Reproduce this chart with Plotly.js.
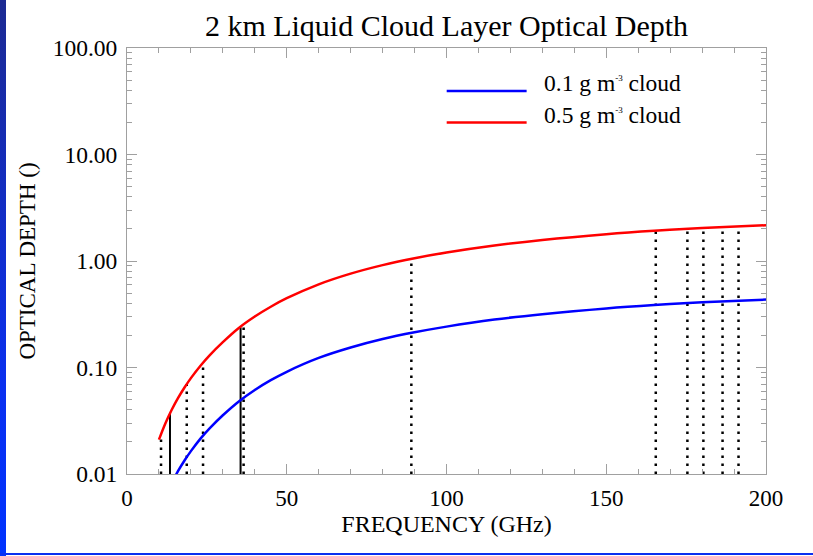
<!DOCTYPE html>
<html>
<head>
<meta charset="utf-8">
<script src="https://cdn.plot.ly/plotly-3.0.1.min.js"></script>
<style>
  html, body { margin: 0; padding: 0; background: #ffffff; }
  #wrap { position: relative; width: 813px; height: 556px; overflow: hidden; }
  #chart { position: absolute; left: 0; top: 0; width: 813px; height: 556px; }
  #leftbar { position: absolute; left: 0; top: 0; width: 6px; height: 556px;
             background: linear-gradient(to bottom, #1c2a92, #0a30f0 70%, #0033ff); z-index: 5; }
  #bottombar { position: absolute; left: 0; top: 553px; width: 813px; height: 2px; background: #0a2ff0; z-index: 5; }
</style>
</head>
<body>
<div id="wrap">
  <div id="chart"></div>
  <div id="leftbar"></div>
  <div id="bottombar"></div>
</div>
<script>
// ---- data ----
var freq      = [10, 12, 14, 16, 18, 20, 23, 26, 30, 35, 40, 45, 50, 60, 70, 80, 90, 100, 115, 130, 150, 165, 180, 200];
var tauRed    = [0.021, 0.0298, 0.0401, 0.0518, 0.0649, 0.0795, 0.104, 0.1315, 0.173, 0.235, 0.301, 0.372, 0.447, 0.604, 0.761, 0.915, 1.062, 1.202, 1.398, 1.577, 1.787, 1.923, 2.038, 2.166];
var freqBlue  = [14, 16, 18, 20, 23, 26, 30, 35, 40, 45, 50, 60, 70, 80, 90, 100, 115, 130, 150, 165, 180, 200];
var tauBlue   = [0.0082, 0.0107, 0.0134, 0.0164, 0.0215, 0.0271, 0.0356, 0.0480, 0.0615, 0.0760, 0.0912, 0.123, 0.154, 0.185, 0.214, 0.242, 0.282, 0.317, 0.359, 0.386, 0.409, 0.434];
var solidFreq = [13.45, 35.55];
var solidTop  = [0.0375, 0.238];
var dotFreq   = [10.65, 18.7, 23.8, 36.5, 89.0, 165.5, 175.4, 180.4, 186.4, 191.4];
var dotTop    = [0.0237, 0.070, 0.111, 0.250, 1.05, 1.92, 2.00, 2.04, 2.08, 2.12];
var xTickVals = [0, 50, 100, 150, 200];
var xTickText = ["0", "50", "100", "150", "200"];
var yTickVals = [0.01, 0.1, 1, 10, 100];
var yTickText = ["0.01", "0.10", "1.00", "10.00", "100.00"];
var seriesNames = ["0.1 g m<sup><span style=\"font-size:9px\">-3</span></sup> cloud", "0.5 g m<sup><span style=\"font-size:9px\">-3</span></sup> cloud"];
var yBase = 0.01;

function segs(fs, tops) {
  var x = [], y = [];
  for (var i = 0; i < fs.length; i++) {
    x.push(fs[i], fs[i], null);
    y.push(yBase, tops[i], null);
  }
  return {x: x, y: y};
}
var s1 = segs(dotFreq, dotTop);
var s2 = segs(solidFreq, solidTop);

var FONT = "'Liberation Serif', 'Times New Roman', serif";

var traces = [
  {x: s1.x, y: s1.y, mode: 'lines', line: {color: '#000', width: 2.5, dash: '2.5px,5.5px'}, hoverinfo: 'skip', showlegend: false},
  {x: s2.x, y: s2.y, mode: 'lines', line: {color: '#000', width: 2}, hoverinfo: 'skip', showlegend: false},
  {x: freqBlue, y: tauBlue, mode: 'lines', name: seriesNames[0], line: {color: '#0000ff', width: 2.5, shape: 'spline'}, showlegend: false},
  {x: freq, y: tauRed, mode: 'lines', name: seriesNames[1], line: {color: '#ff0000', width: 2.5, shape: 'spline'}, showlegend: false}
];

var layout = {
  width: 813, height: 556,
  paper_bgcolor: '#ffffff', plot_bgcolor: '#ffffff',
  margin: {l: 127, r: 47, t: 48, b: 82},
  font: {family: FONT, size: 23, color: '#000'},
  title: {text: '2 km Liquid Cloud Layer Optical Depth', font: {family: FONT, size: 30, color: '#000'},
          x: 0.5, xref: 'paper', y: 0.954, yref: 'container', yanchor: 'middle'},
  xaxis: {
    range: [0, 200], showgrid: false, zeroline: false,
    showline: true, linecolor: '#a0a0a0', linewidth: 1, mirror: 'ticks',
    ticks: 'inside', ticklen: 10, tickcolor: '#a0a0a0', tickwidth: 1,
    tickvals: xTickVals, ticktext: xTickText, ticklabelstandoff: 3,
    tickfont: {family: FONT, size: 23, color: '#000'},
    minor: {dtick: 10, ticks: 'inside', ticklen: 5, tickcolor: '#a0a0a0', tickwidth: 1, showgrid: false},
    title: {text: 'FREQUENCY (GHz)', font: {family: FONT, size: 24, color: '#000'}, standoff: 2}
  },
  yaxis: {
    type: 'log', range: [-2, 2], showgrid: false, zeroline: false,
    showline: true, linecolor: '#a0a0a0', linewidth: 1, mirror: 'ticks',
    ticks: 'inside', ticklen: 10, tickcolor: '#a0a0a0', tickwidth: 1,
    tickvals: yTickVals, ticktext: yTickText, ticklabelstandoff: 4,
    tickfont: {family: FONT, size: 23.5, color: '#000'},
    minor: {dtick: 'D1', ticks: 'inside', ticklen: 5, tickcolor: '#a0a0a0', tickwidth: 1, showgrid: false},
    title: {text: 'OPTICAL DEPTH ()', font: {family: FONT, size: 23, color: '#000'}, standoff: 10}
  },
  shapes: [
    {type: 'line', xref: 'paper', yref: 'paper', x0: 0.5003, x1: 0.6254, y0: 0.899, y1: 0.899, line: {color: '#0000ff', width: 2.5}},
    {type: 'line', xref: 'paper', yref: 'paper', x0: 0.5003, x1: 0.6254, y0: 0.825, y1: 0.825, line: {color: '#ff0000', width: 2.5}}
  ],
  annotations: [
    {xref: 'paper', yref: 'paper', x: 0.649, y: 0.917, xanchor: 'left', yanchor: 'middle', showarrow: false,
     text: seriesNames[0], font: {family: FONT, size: 23.5, color: '#000'}},
    {xref: 'paper', yref: 'paper', x: 0.649, y: 0.843, xanchor: 'left', yanchor: 'middle', showarrow: false,
     text: seriesNames[1], font: {family: FONT, size: 23.5, color: '#000'}}
  ]
};

Plotly.newPlot('chart', traces, layout, {staticPlot: true, displayModeBar: false});
</script>
</body>
</html>
